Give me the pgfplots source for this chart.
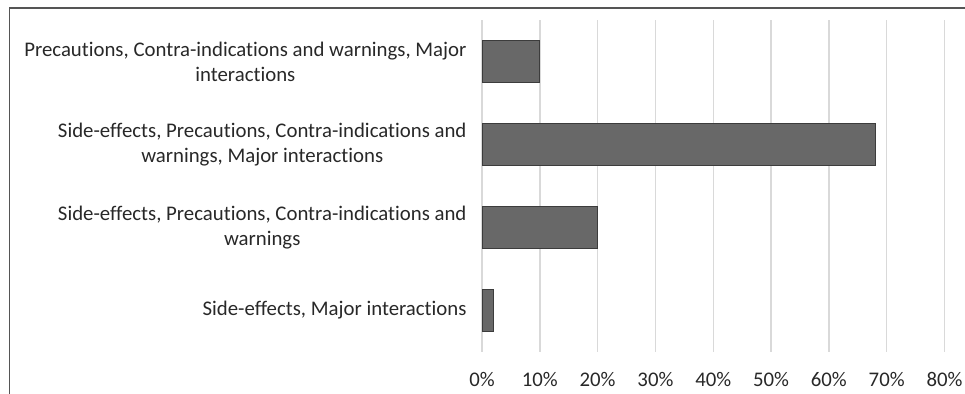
\documentclass[border=0pt]{standalone}
\usepackage{fontspec}
\setmainfont{Carlito}[Ligatures=NoCommon]
\usepackage{pgfplots}
\pgfplotsset{compat=1.18}
\definecolor{framec}{RGB}{85,85,85}
\definecolor{gridc}{RGB}{217,217,217}
\definecolor{txt}{RGB}{40,40,40}
\definecolor{barfill}{RGB}{104,104,104}
\definecolor{baredge}{RGB}{60,60,60}
\begin{document}
\begin{tikzpicture}
\useasboundingbox (0,0) rectangle (965bp,394bp);
\draw[line width=1.5bp, framec] (9.3bp,0) -- (9.3bp,386bp) -- (965bp,386bp);
\begin{axis}[
  at={(482bp,42bp)}, anchor=south west,
  scale only axis, width=462.5bp, height=332bp,
  xmin=0, xmax=80, ymin=-0.5, ymax=3.5,
  xtick={0,10,...,80},
  xticklabels={0\%,10\%,20\%,30\%,40\%,50\%,60\%,70\%,80\%},
  ytick={0,1,2,3},
  yticklabels={
    {Side-effects, Major interactions},
    {Side-effects, Precautions, Contra-indications and\\warnings},
    {Side-effects, Precautions, Contra-indications and\\warnings, Major interactions},
    {Precautions, Contra-indications and warnings, Major\\interactions}},
  tick label style={font=\fontsize{20.8bp}{25bp}\selectfont, text=txt},
  yticklabel style={align=center, xshift=-12bp},
  xticklabel style={yshift=-16.5bp},
  major tick length=0pt,
  axis line style={draw=none},
  xmajorgrids,
  major grid style={gridc, line width=1.4bp},
  xbar, bar width=0.5,
]
\addplot[draw=baredge, line width=0.8bp, fill=barfill]
  coordinates {(2,0) (20,1) (68,2) (10,3)};
\end{axis}
\end{tikzpicture}
\end{document}
